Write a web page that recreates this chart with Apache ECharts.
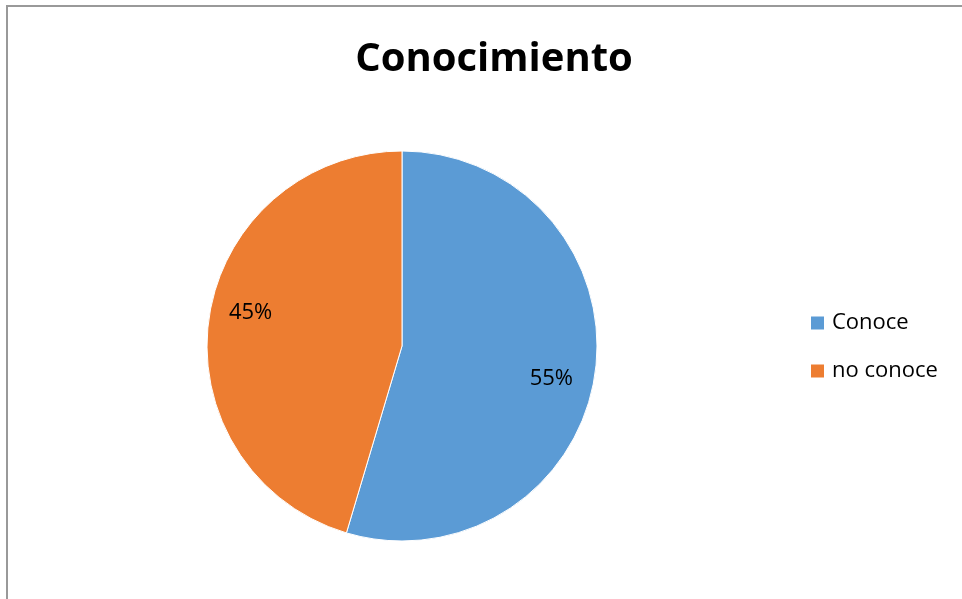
<!DOCTYPE html>
<html>
<head>
<meta charset="utf-8">
<script src="https://cdn.jsdelivr.net/npm/echarts@6/dist/echarts.min.js"></script>
<style>
html,body{margin:0;padding:0;background:#fff;}
#chart{width:962px;height:599px;}
</style>
</head>
<body>
<div id="chart"></div>
<script>
const titleText = 'Conocimiento';
const categories = ['Conoce', 'no conoce'];
const values = [54.6, 45.4];
const colors = ['#5b9bd5', '#ed7d31'];
const labelOffsets = [[-6, 10], [4, -11]];

const chart = echarts.init(document.getElementById('chart'));
const font = '"Open Sans", Lato, sans-serif';

const pieData = categories.map((c, i) => ({
  name: c, value: values[i], itemStyle: { color: colors[i] }
}));
const labelData = categories.map((c, i) => ({
  name: c, value: values[i],
  label: { offset: labelOffsets[i] }
}));

chart.setOption({
  animation: false,
  backgroundColor: '#fff',
  graphic: [{
    type: 'rect',
    shape: { x: 7, y: 6, width: 1200, height: 1200 },
    style: { fill: 'none', stroke: '#999', lineWidth: 2 },
    silent: true
  }],
  title: {
    text: titleText,
    left: 489, textAlign: 'center',
    top: 35,
    textStyle: { fontFamily: font, fontWeight: 'bold', fontSize: 40, color: '#000' }
  },
  legend: {
    orient: 'vertical',
    left: 809, top: 312,
    padding: 0,
    itemWidth: 15, itemHeight: 15,
    itemGap: 26,
    icon: 'rect',
    data: categories,
    textStyle: { fontFamily: font, fontSize: 22, color: '#000', lineHeight: 22, padding: [0, 0, 0, 2] }
  },
  series: [{
    type: 'pie',
    center: [402, 346],
    radius: [0, 195],
    startAngle: 90,
    clockwise: true,
    silent: true,
    data: pieData,
    itemStyle: { borderColor: '#fff', borderWidth: 1 },
    label: { show: false },
    labelLine: { show: false }
  }, {
    type: 'pie',
    center: [402, 346],
    radius: [0, 308],
    startAngle: 90,
    clockwise: true,
    silent: true,
    legendHoverLink: false,
    percentPrecision: 0,
    data: labelData,
    itemStyle: { color: 'rgba(0,0,0,0)' },
    label: {
      show: true, position: 'inside',
      formatter: '{d}%',
      fontFamily: font, fontSize: 22, color: '#000'
    },
    labelLine: { show: false }
  }]
});
</script>
</body>
</html>
